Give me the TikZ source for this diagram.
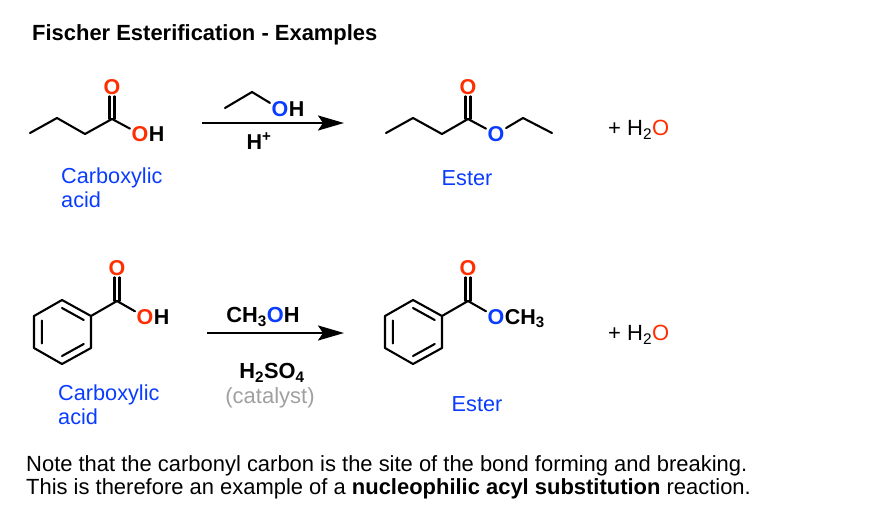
\documentclass[tikz,border=0pt]{standalone}
\usepackage{fontspec}
\setmainfont{Liberation Sans}
\usetikzlibrary{positioning,arrows.meta,calc}
\definecolor{oxred}{HTML}{FF2D00}
\definecolor{oxblue}{HTML}{0A3CFF}
\definecolor{catgray}{HTML}{A0A0A0}
\tikzset{%
atom/.style={font=\fontsize{21.5}{24}\selectfont\bfseries,inner sep=1.5pt},
redatom/.style={atom,text=oxred},
blueatom/.style={atom,text=oxblue},
reagent/.style={font=\fontsize{21.8}{24}\selectfont\bfseries,inner sep=0pt},
bluelabel/.style={font=\fontsize{21.7}{24}\selectfont,text=oxblue,align=left,inner sep=0pt},
plain/.style={font=\fontsize{22}{24}\selectfont,inner sep=0pt},
note/.style={font=\fontsize{21.95}{24}\selectfont,inner sep=0pt,anchor=west},
bond/.style={line width=2.1pt,line cap=round,line join=round},
rxnarrow/.style={line width=2.3pt,-{Stealth[length=26pt,width=15pt,inset=5pt]}}
}
\begin{document}
\begin{tikzpicture}[x=1pt,y=-1pt]

    \useasboundingbox (0,0) rectangle (876,528);

    \node[font=\fontsize{21.95}{24}\selectfont\bfseries,inner sep=0pt,anchor=west] (title) at (32,35) {Fischer Esterification - Examples};

    % first reaction
    \coordinate (a1) at (30,133);
    \coordinate (a2) at (57,118);
    \coordinate (a3) at (85,134);
    \coordinate (a4) at (112,119);
    \node[redatom] (ao) at (112,87) {O};
    \node[redatom] (aoh) at (140,134) {O};
    \node[atom,right=-3pt of aoh] (ah) {H};
    \draw[bond] (a1) -- (a2) -- (a3) -- (a4) -- (aoh);
    \draw[bond] ([xshift=-2.5pt]a4) -- ([xshift=-2.5pt]ao.south);
    \draw[bond] ([xshift=2.5pt]a4) -- ([xshift=2.5pt]ao.south);
    \node[bluelabel,anchor=north west] (acidone) at (61,168) {Carboxylic\\acid};

    \coordinate (e1) at (225,108);
    \coordinate (e2) at (252,92);
    \node[blueatom] (eo) at (280,109) {O};
    \node[atom,right=-3pt of eo] (eh) {H};
    \draw[bond] (e1) -- (e2) -- (eo);
    \coordinate (arrowastart) at (202,123);
    \coordinate (arrowaend) at (344,123);
    \draw[rxnarrow] (arrowastart) -- (arrowaend);
    \node[atom] (hplus) at (259,141) {H\textsuperscript{+}};

    \coordinate (b1) at (386,133);
    \coordinate (b2) at (413,118);
    \coordinate (b3) at (442,134);
    \coordinate (b4) at (468,119);
    \node[redatom] (bo) at (468,87) {O};
    \node[blueatom] (bx) at (496,134) {O};
    \coordinate (b5) at (523,118);
    \coordinate (b6) at (552,133);
    \draw[bond] (b1) -- (b2) -- (b3) -- (b4) -- (bx) -- (b5) -- (b6);
    \draw[bond] ([xshift=-2.5pt]b4) -- ([xshift=-2.5pt]bo.south);
    \draw[bond] ([xshift=2.5pt]b4) -- ([xshift=2.5pt]bo.south);
    \node[bluelabel] (esterone) at (467,178) {Ester};
    \node[plain,anchor=west] (wone) at (608,130) {+ H\textsubscript{2}\textcolor{oxred}{O}};

    % second reaction
    \coordinate (rc) at (62,332);
    \coordinate (r1) at (62,300);
    \coordinate (r2) at (91,316);
    \coordinate (r3) at (91,348);
    \coordinate (r4) at (62,364);
    \coordinate (r5) at (34,348);
    \coordinate (r6) at (34,316);
    \draw[bond] (r1) -- (r2) -- (r3) -- (r4) -- (r5) -- (r6) -- cycle;
    \draw[bond] ($(rc)!.75!(r1)$) -- ($(rc)!.75!(r2)$)
                ($(rc)!.75!(r3)$) -- ($(rc)!.75!(r4)$)
                ($(rc)!.72!(r5)$) -- ($(rc)!.72!(r6)$);
    \coordinate (c1) at (117,301);
    \node[redatom] (co) at (117,268) {O};
    \node[redatom] (coh) at (145,317) {O};
    \node[atom,right=-3pt of coh] (ch) {H};
    \draw[bond] (r2) -- (c1) -- (coh);
    \draw[bond] ([xshift=-2.5pt]c1) -- ([xshift=-2.5pt]co.south);
    \draw[bond] ([xshift=2.5pt]c1) -- ([xshift=2.5pt]co.south);
    \node[bluelabel,anchor=north west] (acidtwo) at (58,385) {Carboxylic\\acid};

    \node[reagent] (meoh) at (263,317) {CH\textsubscript{3}\textcolor{oxblue}{O}H};
    \coordinate (arrowbstart) at (207,333);
    \coordinate (arrowbend) at (344,333);
    \draw[rxnarrow] (arrowbstart) -- (arrowbend);
    \node[reagent] (acid) at (272,373) {H\textsubscript{2}SO\textsubscript{4}};
    \node[font=\fontsize{22}{24}\selectfont,text=catgray,inner sep=0pt] (cat) at (270,398) {(catalyst)};

    \coordinate (sc) at (413,332);
    \coordinate (s1) at (413,300);
    \coordinate (s2) at (442,316);
    \coordinate (s3) at (442,348);
    \coordinate (s4) at (413,364);
    \coordinate (s5) at (385,348);
    \coordinate (s6) at (385,316);
    \draw[bond] (s1) -- (s2) -- (s3) -- (s4) -- (s5) -- (s6) -- cycle;
    \draw[bond] ($(sc)!.75!(s1)$) -- ($(sc)!.75!(s2)$)
                ($(sc)!.75!(s3)$) -- ($(sc)!.75!(s4)$)
                ($(sc)!.72!(s5)$) -- ($(sc)!.72!(s6)$);
    \coordinate (d1) at (468,301);
    \node[redatom] (do) at (468,268) {O};
    \node[blueatom] (dx) at (496,317) {O};
    \node[atom,anchor=base west,inner sep=0pt,xshift=-1.5pt] (dme) at (dx.base east) {CH\textsubscript{3}};
    \draw[bond] (s2) -- (d1) -- (dx);
    \draw[bond] ([xshift=-2.5pt]d1) -- ([xshift=-2.5pt]do.south);
    \draw[bond] ([xshift=2.5pt]d1) -- ([xshift=2.5pt]do.south);
    \node[bluelabel] (estertwo) at (477,404) {Ester};
    \node[plain,anchor=west] (wtwo) at (608,335) {+ H\textsubscript{2}\textcolor{oxred}{O}};

    \node[note] (noteone) at (26,466) {Note that the carbonyl carbon is the site of the bond forming and breaking.};
    \node[note] (notetwo) at (26,489) {This is therefore an example of a \textbf{nucleophilic acyl substitution} reaction.};

\end{tikzpicture}
\end{document}
